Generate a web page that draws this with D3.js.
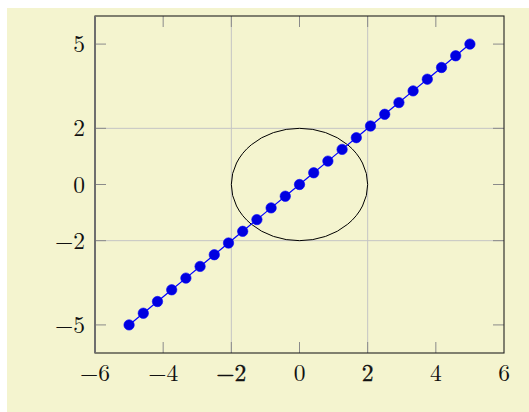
<!DOCTYPE html>
<html>
<head>
<meta charset="utf-8">
<script src="https://cdn.jsdelivr.net/npm/d3@7"></script>
<style>
  body { margin: 0; background: #fff; }
  svg { display: block; }
</style>
</head>
<body>
<div id="chart"></div>
<script>
// sampled points of the line (25 samples between -5 and 5)
const xs = [-5, -4.583, -4.167, -3.75, -3.333, -2.917, -2.5, -2.083, -1.667, -1.25, -0.833, -0.417, 0,
            0.417, 0.833, 1.25, 1.667, 2.083, 2.5, 2.917, 3.333, 3.75, 4.167, 4.583, 5];
const ys = [-5, -4.583, -4.167, -3.75, -3.333, -2.917, -2.5, -2.083, -1.667, -1.25, -0.833, -0.417, 0,
            0.417, 0.833, 1.25, 1.667, 2.083, 2.5, 2.917, 3.333, 3.75, 4.167, 4.583, 5];
const x_ticks = [-6, -4, -2, 0, 2, 4, 6];
const y_ticks = [-5, 0, 5];
const extra_ticks = [-2, 2];   // drawn with grid lines
const circle = { cx: 0, cy: 0, r: 2 };

const W = 529, H = 412;
const margin = { top: 16, right: 25, bottom: 59, left: 95 };
const font = "'Latin Modern Roman', 'Liberation Serif', serif";

const svg = d3.select("#chart")
    .append("svg")
    .attr("width", W)
    .attr("height", H);

// yellow page background
svg.append("rect")
    .attr("x", 7).attr("y", 8)
    .attr("width", W - 7).attr("height", H - 8)
    .attr("fill", "#f4f4cf");

const x = d3.scaleLinear().domain([-6, 6]).range([margin.left, W - margin.right]);
const y = d3.scaleLinear().domain([-6, 6]).range([H - margin.bottom, margin.top]);

// grid lines at the extra ticks
svg.append("g").selectAll("line")
    .data(extra_ticks).join("line")
    .attr("x1", d => x(d)).attr("x2", d => x(d))
    .attr("y1", y(-6)).attr("y2", y(6))
    .attr("stroke", "#c4c4c4").attr("stroke-width", 1);
svg.append("g").selectAll("line")
    .data(extra_ticks).join("line")
    .attr("x1", x(-6)).attr("x2", x(6))
    .attr("y1", d => y(d)).attr("y2", d => y(d))
    .attr("stroke", "#c4c4c4").attr("stroke-width", 1);

// inward ticks on all four sides
const tickLen = 11;
const tickColor = "#8a8a8a";
const xt = x_ticks.filter(d => d > -6 && d < 6);
svg.append("g").selectAll("line")
    .data(xt).join("line")
    .attr("x1", d => x(d)).attr("x2", d => x(d))
    .attr("y1", y(-6)).attr("y2", y(-6) - tickLen)
    .attr("stroke", tickColor);
svg.append("g").selectAll("line")
    .data(xt).join("line")
    .attr("x1", d => x(d)).attr("x2", d => x(d))
    .attr("y1", y(6)).attr("y2", y(6) + tickLen)
    .attr("stroke", tickColor);
svg.append("g").selectAll("line")
    .data(y_ticks.concat(extra_ticks)).join("line")
    .attr("x1", x(-6)).attr("x2", x(-6) + tickLen)
    .attr("y1", d => y(d)).attr("y2", d => y(d))
    .attr("stroke", tickColor);
svg.append("g").selectAll("line")
    .data(y_ticks.concat(extra_ticks)).join("line")
    .attr("x1", x(6)).attr("x2", x(6) - tickLen)
    .attr("y1", d => y(d)).attr("y2", d => y(d))
    .attr("stroke", tickColor);

// circle of radius 2 in data units
svg.append("ellipse")
    .attr("cx", x(circle.cx)).attr("cy", y(circle.cy))
    .attr("rx", x(circle.r) - x(0)).attr("ry", y(0) - y(circle.r))
    .attr("fill", "none").attr("stroke", "#000").attr("stroke-width", 1);

// line with markers
const pts = xs.map((d, i) => [d, ys[i]]);
svg.append("path")
    .datum(pts)
    .attr("d", d3.line().x(d => x(d[0])).y(d => y(d[1])))
    .attr("fill", "none").attr("stroke", "#0000ff").attr("stroke-width", 1.2);
svg.append("g").selectAll("circle")
    .data(pts).join("circle")
    .attr("cx", d => x(d[0])).attr("cy", d => y(d[1]))
    .attr("r", 5.2)
    .attr("fill", "#0000e0").attr("stroke", "#0000ff").attr("stroke-width", 0.6);

// axis box
svg.append("rect")
    .attr("x", x(-6)).attr("y", y(6))
    .attr("width", x(6) - x(-6)).attr("height", y(-6) - y(6))
    .attr("fill", "none").attr("stroke", "#222").attr("stroke-width", 1.1);
svg.append("line")
    .attr("x1", x(-6)).attr("x2", x(-6))
    .attr("y1", y(6)).attr("y2", y(-6))
    .attr("stroke", "#6e6e6e").attr("stroke-width", 2);

const fmt = d => (d < 0 ? "\u2212" : "") + Math.abs(d);

// tick labels (extra x tick labels overprint the normal ones, so look heavier)
svg.append("g").selectAll("text")
    .data(x_ticks).join("text")
    .attr("x", d => x(d)).attr("y", y(-6) + 28)
    .attr("text-anchor", "middle")
    .attr("font-family", font)
    .attr("font-size", 23.5)
    .attr("fill", "#111")
    .attr("stroke", d => extra_ticks.includes(d) ? "#111" : "none")
    .attr("stroke-width", 0.35)
    .text(fmt);
svg.append("g").selectAll("text")
    .data(y_ticks.concat(extra_ticks)).join("text")
    .attr("x", x(-6) - 10).attr("y", d => y(d) + 8)
    .attr("text-anchor", "end")
    .attr("font-family", font)
    .attr("font-size", 23.5)
    .attr("fill", "#111")
    .text(fmt);
</script>
</body>
</html>
